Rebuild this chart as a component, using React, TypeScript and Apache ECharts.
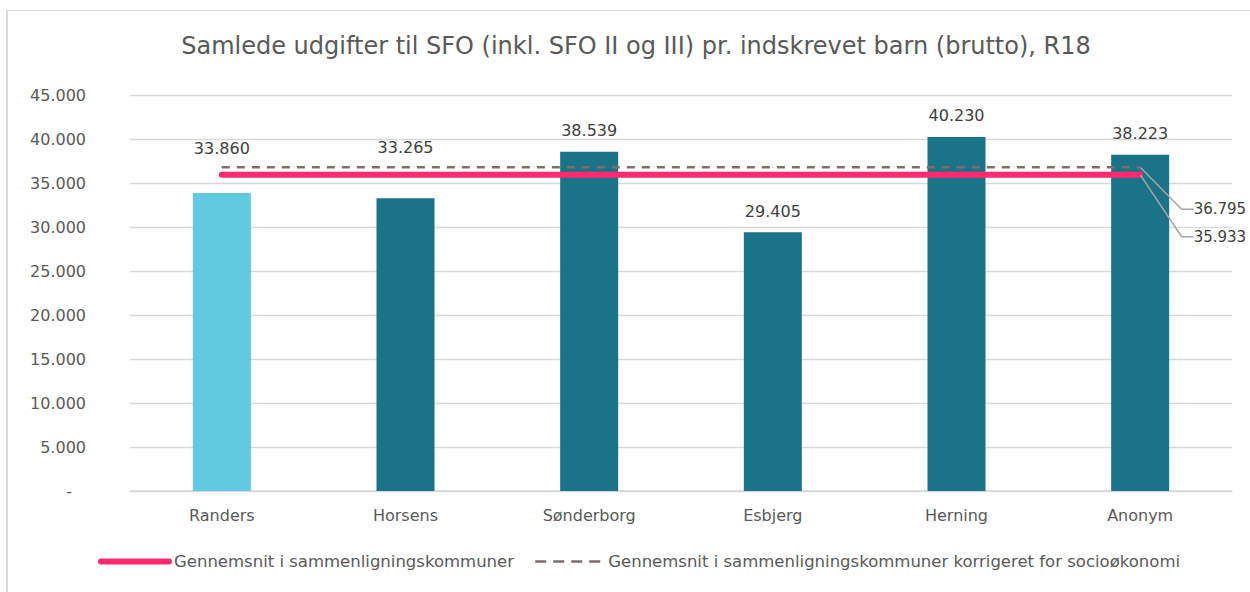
import { useEffect, useRef } from "react";
import * as echarts from "echarts";

const title = "Samlede udgifter til SFO (inkl. SFO II og III) pr. indskrevet barn (brutto), R18";
const categories = ["Randers", "Horsens", "Sønderborg", "Esbjerg", "Herning", "Anonym"];
const values = [33860, 33265, 38539, 29405, 40230, 38223];
const avgLine = [35933, 35933, 35933, 35933, 35933, 35933];
const avgAdjLine = [36795, 36795, 36795, 36795, 36795, 36795];
const avgName = "Gennemsnit i sammenligningskommuner";
const avgAdjName = "Gennemsnit i sammenligningskommuner korrigeret for socioøkonomi";
const yMin = 0;
const yMax = 45000;
const yInterval = 5000;

const FONT = "DejaVu Sans";
const fmt = (v: number) => String(Math.round(v)).replace(/\B(?=(\d{3})+(?!\d))/g, ".");

export default function App() {
  const ref = useRef<HTMLDivElement>(null);
  useEffect(() => {
    if (!ref.current) return;
    const chart = echarts.init(ref.current, null, { renderer: "svg" });
    const last = categories.length - 1;
    const barColors = ["#62C9E3", "#1A7389", "#1A7389", "#1A7389", "#1A7389", "#1A7389"];
    const labelOffsets: Record<number, number> = { 0: -24, 1: -30 };
    chart.setOption({
      animation: false,
      backgroundColor: "#ffffff",
      textStyle: { fontFamily: FONT },
      title: {
        text: title,
        left: 631,
        textAlign: "center",
        top: 29,
        textStyle: { fontFamily: FONT, fontSize: 24, fontWeight: "normal", color: "#595959" },
      },
      graphic: [
        { type: "line", shape: { x1: 7, y1: 10, x2: 7, y2: 700 }, style: { stroke: "#D9D9D9", lineWidth: 2 } },
        { type: "line", shape: { x1: 7, y1: 10.5, x2: 1300, y2: 10.5 }, style: { stroke: "#D9D9D9", lineWidth: 1 } },
      ],
      grid: { left: 130, right: 18, top: 95, bottom: 101, containLabel: false },
      legend: {
        left: 93,
        top: 548,
        itemWidth: 68,
        itemHeight: 14,
        itemGap: 20,
        textStyle: { fontFamily: FONT, fontSize: 16.5, color: "#595959" },
        data: [
          { name: avgName, itemStyle: { opacity: 0 }, lineStyle: { width: 6, color: "#FF2A6D", cap: "round" } },
          { name: avgAdjName, itemStyle: { opacity: 0 }, lineStyle: { width: 2.5, color: "#7E6E68", type: [11, 7] } },
        ],
      },
      xAxis: {
        type: "category",
        data: categories,
        axisLine: { lineStyle: { color: "#D9D9D9", width: 1.5 } },
        axisTick: { show: false },
        axisLabel: { fontFamily: FONT, fontSize: 16, color: "#595959", margin: 16 },
      },
      yAxis: {
        type: "value",
        min: yMin,
        max: yMax,
        interval: yInterval,
        axisLine: { show: false },
        axisTick: { show: false },
        splitLine: { lineStyle: { color: "#D9D9D9", width: 1.3 } },
        axisLabel: {
          fontFamily: FONT,
          fontSize: 16,
          color: "#595959",
          margin: 44,
          formatter: (v: number) => (v === 0 ? "{d|-}" : fmt(v)),
          rich: { d: { fontFamily: FONT, fontSize: 16, color: "#595959", padding: [0, 14, 0, 0] } },
        },
      },
      series: [
        {
          type: "bar",
          barWidth: 58,
          z: 1,
          data: values.map((v, i) => ({
            value: v,
            itemStyle: { color: barColors[i] },
            label: labelOffsets[i] !== undefined ? { offset: [0, labelOffsets[i]] } : undefined,
          })),
          label: {
            show: true,
            position: "top",
            distance: 13,
            fontFamily: FONT,
            fontSize: 16,
            color: "#404040",
            formatter: (p: any) => fmt(p.value),
          },
        },
        {
          name: avgAdjName,
          type: "line",
          z: 3,
          symbol: "circle",
          symbolSize: 1,
          showSymbol: true,
          itemStyle: { color: "#7E6E68" },
          lineStyle: { width: 2.5, color: "#7E6E68", type: [8, 7] },
          data: avgAdjLine.map((v, i) => (i === last ? { value: v, label: { show: true } } : v)),
          label: {
            show: false,
            position: "right",
            distance: 5,
            padding: [0, 0, 0, 14],
            fontFamily: FONT,
            fontSize: 15,
            color: "#404040",
            formatter: (p: any) => fmt(p.value),
          },
          labelLayout: { dx: 34, dy: 42 },
          labelLine: { show: true, length2: 12, lineStyle: { color: "#A6A6A6", width: 1.5 } },
        },
        {
          name: avgName,
          type: "line",
          z: 4,
          symbol: "circle",
          symbolSize: 1,
          showSymbol: true,
          itemStyle: { color: "#FF2A6D" },
          lineStyle: { width: 6, color: "#FF2A6D", cap: "round" },
          data: avgLine.map((v, i) => (i === last ? { value: v, label: { show: true } } : v)),
          label: {
            show: false,
            position: "right",
            distance: 5,
            padding: [0, 0, 0, 14],
            fontFamily: FONT,
            fontSize: 15,
            color: "#404040",
            formatter: (p: any) => fmt(p.value),
          },
          labelLayout: { dx: 34, dy: 62 },
          labelLine: { show: true, length2: 12, lineStyle: { color: "#A6A6A6", width: 1.5 } },
        },
      ],
    });
    return () => chart.dispose();
  }, []);
  return (
    <div
      ref={ref}
      style={{ position: "absolute", left: 0, top: 0, width: 1250, height: 592, background: "#fff" }}
    />
  );
}
